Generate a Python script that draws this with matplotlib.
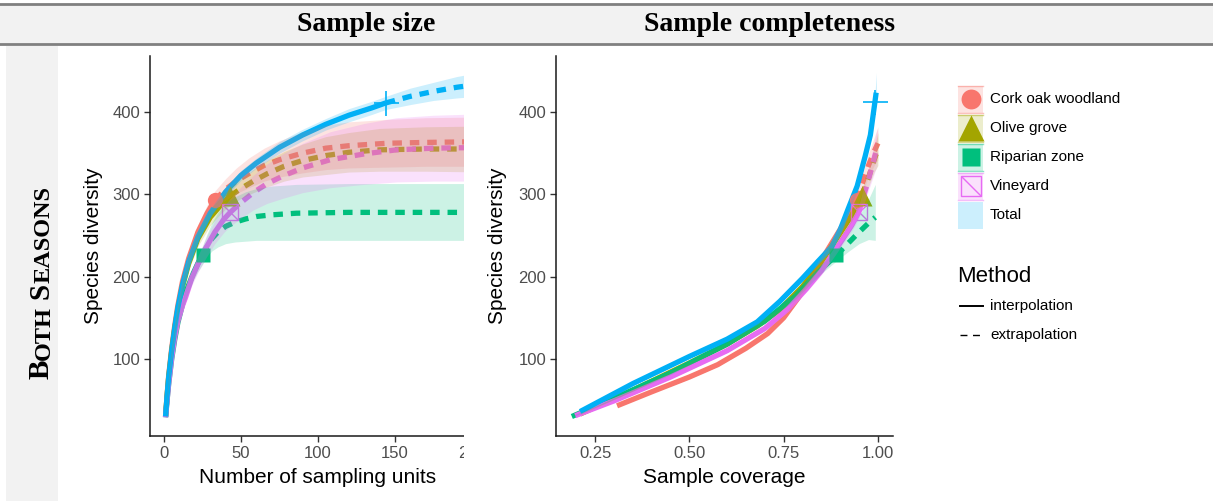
import numpy as np
import matplotlib
matplotlib.use("Agg")
import matplotlib.pyplot as plt
from matplotlib.patches import Rectangle

SANS = ["Liberation Sans", "DejaVu Sans"]
SERIF = ["Liberation Serif", "DejaVu Serif"]
plt.rcParams["font.family"] = SANS

# %% data -------------------------------------------------------------
sites = ["Cork oak woodland", "Olive grove", "Riparian zone", "Vineyard", "Total"]
colors = ["#F8766D", "#A3A500", "#00BF7D", "#E76BF3", "#00B0F6"]

# sample-size based curves (x = number of sampling units)
cork_n = [1, 2, 3, 5, 7, 9, 12, 16, 22, 28, 33, 40, 47, 55, 65, 75, 90, 105, 120, 145, 170, 210]
cork_s = [30, 56, 79, 113, 141, 165, 194, 222, 254, 277, 293, 306, 316, 325, 335, 342, 350, 356, 359, 362, 363, 364]
cork_lo = [29, 54, 76, 109, 136, 159, 187, 214, 245, 267, 282, 293, 301, 308, 316, 321, 326, 330, 332, 333, 334, 334]
cork_hi = [31, 58, 82, 117, 146, 171, 201, 230, 263, 287, 304, 319, 332, 344, 356, 365, 376, 384, 388, 391, 393, 394]

olive_n = [1, 2, 3, 5, 7, 9, 12, 16, 22, 30, 37, 43, 50, 58, 67, 78, 90, 105, 120, 140, 170, 210]
olive_s = [30, 55, 77, 110, 137, 160, 188, 216, 246, 272, 287, 298, 307, 316, 325, 334, 341, 347, 351, 354, 355, 355]
olive_lo = [29, 53, 74, 106, 132, 154, 181, 208, 237, 262, 277, 287, 295, 302, 309, 316, 321, 324, 327, 328, 328, 327]
olive_hi = [31, 57, 80, 114, 142, 166, 195, 224, 255, 282, 297, 309, 319, 330, 341, 352, 361, 370, 375, 380, 382, 383]

rip_n = [1, 2, 3, 5, 7, 9, 12, 15, 19, 22, 25, 28, 31, 35, 40, 46, 53, 60, 70, 86, 120, 160, 210]
rip_s = [29, 50, 69, 100, 124, 144, 166, 185, 204, 216, 226, 237, 246, 254, 261, 266, 270, 273, 275, 277, 278, 278, 278]
rip_lo = [28, 48, 66, 96, 119, 138, 159, 177, 195, 206, 215, 224, 231, 236, 240, 242, 243, 244, 244, 244, 244, 244, 244]
rip_hi = [30, 52, 72, 104, 129, 150, 173, 193, 213, 226, 237, 252, 265, 278, 289, 297, 303, 307, 310, 312, 313, 313, 313]

vin_n = [1, 2, 3, 5, 7, 9, 12, 14, 18, 22, 27, 33, 39, 43, 50, 58, 67, 77, 90, 108, 130, 151, 175, 210]
vin_s = [29, 50, 70, 102, 127, 146, 165, 175, 198, 215, 234, 254, 270, 278, 290, 302, 313, 322, 332, 342, 349, 354, 356, 357]
vin_lo = [28, 48, 67, 98, 122, 140, 158, 167, 189, 205, 222, 240, 254, 261, 271, 281, 289, 295, 302, 308, 312, 315, 316, 316]
vin_hi = [30, 52, 73, 106, 132, 152, 172, 183, 207, 225, 246, 268, 286, 295, 309, 323, 337, 349, 362, 376, 386, 393, 396, 398]

tot_n = [1, 2, 3, 5, 7, 9, 12, 16, 22, 30, 40, 50, 60, 75, 90, 105, 120, 135, 144, 160, 175, 190, 210]
tot_s = [30, 55, 77, 110, 138, 162, 190, 218, 248, 277, 303, 323, 338, 357, 372, 385, 396, 405, 411, 419, 425, 430, 435]
tot_lo = [29, 54, 75, 108, 135, 159, 186, 214, 243, 272, 297, 317, 332, 350, 365, 378, 388, 397, 403, 409, 414, 417, 420]
tot_hi = [31, 56, 79, 112, 141, 165, 194, 222, 253, 282, 309, 329, 344, 364, 379, 392, 404, 413, 419, 429, 436, 443, 450]

# observed reference sample sizes
ref_n = [33, 43, 25, 43, 144]

# coverage based curves (x = sample coverage)
cork_cov = [0.308, 0.40, 0.50, 0.575, 0.65, 0.708, 0.75, 0.79, 0.83, 0.87, 0.91, 0.944, 0.96, 0.975, 0.99, 1.0]
cork_cs = [43, 60, 78, 93, 113, 131, 150, 175, 205, 235, 265, 293, 315, 335, 352, 362]
cork_clo = [42, 59, 76, 91, 110, 128, 147, 171, 200, 229, 258, 285, 304, 321, 335, 342]
cork_chi = [44, 61, 80, 95, 116, 134, 153, 179, 210, 241, 272, 301, 326, 349, 369, 382]

olive_cov = [0.21, 0.35, 0.50, 0.60, 0.68, 0.74, 0.80, 0.85, 0.90, 0.93, 0.957, 0.975, 0.99, 1.0]
olive_cs = [33, 62, 95, 118, 140, 160, 188, 218, 253, 274, 298, 320, 342, 355]
olive_clo = [32, 61, 93, 116, 137, 157, 184, 213, 247, 267, 290, 309, 327, 335]
olive_chi = [34, 63, 97, 120, 143, 163, 192, 223, 259, 281, 306, 331, 357, 375]

rip_cov = [0.188, 0.30, 0.45, 0.60, 0.70, 0.78, 0.84, 0.89, 0.92, 0.95, 0.975, 0.993]
rip_cs = [30, 52, 83, 118, 146, 176, 205, 226, 240, 254, 265, 272]
rip_clo = [29, 51, 81, 116, 143, 172, 200, 219, 230, 240, 245, 244]
rip_chi = [31, 53, 85, 120, 149, 180, 210, 233, 252, 274, 294, 312]

vin_cov = [0.197, 0.30, 0.45, 0.60, 0.70, 0.76, 0.81, 0.85, 0.90, 0.93, 0.949, 0.97, 0.985, 0.998]
vin_cs = [31, 49, 78, 110, 137, 160, 185, 207, 241, 262, 278, 310, 335, 357]
vin_clo = [30, 48, 76, 108, 134, 157, 181, 202, 235, 255, 270, 298, 318, 335]
vin_chi = [32, 50, 80, 112, 140, 163, 189, 212, 247, 269, 286, 322, 352, 380]

tot_cov = [0.21, 0.35, 0.50, 0.60, 0.68, 0.74, 0.80, 0.84, 0.877, 0.90, 0.92, 0.945, 0.966, 0.98, 0.992, 0.994, 0.996]
tot_cs = [36, 70, 103, 124, 145, 170, 198, 218, 236, 257, 281, 310, 346, 372, 412, 419, 426]
tot_clo = [35, 69, 101, 122, 143, 167, 195, 215, 232, 253, 276, 305, 339, 364, 402, 405, 408]
tot_chi = [37, 71, 105, 126, 147, 173, 201, 221, 240, 261, 286, 315, 353, 381, 422, 435, 448]

ref_cov = [0.944, 0.957, 0.89, 0.949, 0.992]

size_curves = [
    (cork_n, cork_s, cork_lo, cork_hi),
    (olive_n, olive_s, olive_lo, olive_hi),
    (rip_n, rip_s, rip_lo, rip_hi),
    (vin_n, vin_s, vin_lo, vin_hi),
    (tot_n, tot_s, tot_lo, tot_hi),
]
cov_curves = [
    (cork_cov, cork_cs, cork_clo, cork_chi),
    (olive_cov, olive_cs, olive_clo, olive_chi),
    (rip_cov, rip_cs, rip_clo, rip_chi),
    (vin_cov, vin_cs, vin_clo, vin_chi),
    (tot_cov, tot_cs, tot_clo, tot_chi),
]

# %% helpers ----------------------------------------------------------
LW = 3.8
DASH = (1.8, 1.5)


def draw_marker(ax, x, y, i, scale=1.0, zorder=3, legend=False):
    c = colors[i]
    if i == 0:
        ax.plot(x, y, "o", ms=11 * scale, color=c, mec="none", zorder=zorder)
    elif i == 1:
        ax.plot(x, y, "^", ms=14 * scale, color=c, mec="none", zorder=zorder)
    elif i == 2:
        ax.plot(x, y, "s", ms=10.5 * scale, color=c, mec="none", zorder=zorder)
    elif i == 3:
        ax.plot(x, y, "s", ms=11 * scale, mfc="none", mec=c, mew=1.0, zorder=zorder)
        if legend:
            ax.plot(x, y, marker=[(-1, 1), (1, -1)], ms=11 * scale, mec=c, mew=1.0,
                    zorder=zorder)
        else:
            ax.plot(x, y, "x", ms=11 * scale, mec=c, mew=1.0, zorder=zorder)
    elif not legend:
        ax.plot(x, y, "+", ms=18 * scale, mec=c, mew=1.2, zorder=zorder)


def draw_panel(ax, curves, refs):
    for i, (x, s, lo, hi) in enumerate(curves):
        x = np.asarray(x, float)
        s = np.asarray(s, float)
        c = colors[i]
        interp = x <= refs[i] + 1e-9
        extrap = x >= refs[i] - 1e-9
        ax.plot(x[interp], s[interp], color=c, lw=LW, solid_capstyle="butt",
                solid_joinstyle="round", zorder=2)
        ax.plot(x[extrap], s[extrap], color=c, lw=LW, dashes=DASH, zorder=2)
        k = int(np.argmin(np.abs(x - refs[i])))
        draw_marker(ax, x[k], s[k], i)
    for i, (x, s, lo, hi) in enumerate(curves):
        ax.fill_between(x, lo, hi, color=colors[i], alpha=0.2, lw=0, zorder=4)


def style(ax, xlabel):
    ax.set_facecolor("none")
    for side in ["top", "right"]:
        ax.spines[side].set_visible(False)
    for side in ["left", "bottom"]:
        ax.spines[side].set_color("#1a1a1a")
        ax.spines[side].set_linewidth(1.1)
    ax.tick_params(direction="out", length=4, width=1.0, color="#333333",
                   labelcolor="#4D4D4D", labelsize=12, pad=3)
    ax.set_ylim(6.3, 468)
    ax.set_yticks([100, 200, 300, 400])
    ax.set_ylabel("Species diversity", fontsize=15, va="center")
    ax.set_xlabel(xlabel, fontsize=15, va="center")
    ax.yaxis.set_label_coords(-0.172, 0.5)
    ax.xaxis.set_label_coords(0.5, -0.11)


# %% figure -----------------------------------------------------------
W, H = 1213, 501
fig = plt.figure(figsize=(W / 100, H / 100), dpi=100)

bg = fig.add_axes([0, 0, 1, 1], zorder=-5)
bg.set_xlim(0, W)
bg.set_ylim(H, 0)
bg.set_axis_off()
bg.add_patch(Rectangle((0, 4), W, 40, facecolor="#F2F2F2", edgecolor="none"))
bg.plot([0, W], [4, 4], color="#808080", lw=2)
bg.plot([0, W], [44, 44], color="#808080", lw=2)
bg.add_patch(Rectangle((6, 46), 52, H - 46, facecolor="#F2F2F2", edgecolor="none"))
bg.text(366, 24, "Sample size", family=SERIF, weight="bold", fontsize=20,
        ha="center", va="center")
bg.text(769, 24, "Sample completeness", family=SERIF, weight="bold", fontsize=20,
        ha="center", va="center")

# small caps row label
prev = bg.text(55, 379, "B", family=SERIF, weight="bold", fontsize=21,
               rotation=90, ha="right", va="bottom")
for txt, fs, gap in [("OTH", 17.5, 0), ("S", 21, 5), ("EASONS", 17.5, 0)]:
    prev = bg.annotate(txt, xy=(1, 1), xycoords=prev, xytext=(0, gap),
                       textcoords="offset points", family=SERIF, weight="bold",
                       fontsize=fs, rotation=90, ha="right", va="bottom")

# left panel: sample size (cut off on the right, as in the source)
ax1 = fig.add_axes([150 / W, (H - 436) / H, 328 / W, 380 / H])
draw_panel(ax1, size_curves, ref_n)
ax1.set_xlim(-9.1, 203.9)
ax1.set_xticks([0, 50, 100, 150, 200])
style(ax1, "Number of sampling units")
ax1.xaxis.set_label_coords((318 - 150) / 328, -0.11)

# right panel: sample coverage
ax2 = fig.add_axes([556 / W, (H - 436) / H, 337 / W, 380 / H])
draw_panel(ax2, cov_curves, ref_cov)
ax2.set_xlim(0.146, 1.040)
ax2.set_xticks([0.25, 0.50, 0.75, 1.00])
ax2.set_xticklabels(["0.25", "0.50", "0.75", "1.00"])
style(ax2, "Sample coverage")
ax2.yaxis.set_label_coords(-0.175, 0.5)

# overlay: crop of left panel + legends
ov = fig.add_axes([0, 0, 1, 1], zorder=10)
ov.set_xlim(0, W)
ov.set_ylim(H, 0)
ov.set_axis_off()
ov.add_patch(Rectangle((464, 46), 23, 440, facecolor="white", edgecolor="none"))

for i, name in enumerate(sites):
    yc = 99 + 29 * i
    c = colors[i]
    draw_marker(ov, 970.5, yc, i, scale=1.3, legend=True)
    ov.add_patch(Rectangle((958, yc - 13.5), 25, 27, facecolor=c, alpha=0.2,
                           edgecolor="none", zorder=4))
    if i < 4:
        ov.plot([958, 983], [yc - 13.5, yc - 13.5], color=c, alpha=0.45, lw=1, zorder=5)
        ov.plot([958, 983], [yc + 13.5, yc + 13.5], color=c, alpha=0.45, lw=1, zorder=5)
    ov.text(990, yc, name, fontsize=11, va="center", ha="left", color="black")

ov.text(957, 276, "Method", fontsize=16, va="center", ha="left")
ov.plot([960, 983], [306, 306], color="black", lw=1.4)
ov.plot([960, 983], [335, 335], color="black", lw=1.0, dashes=(5, 4))
ov.text(990, 306, "interpolation", fontsize=11, va="center")
ov.text(990, 335, "extrapolation", fontsize=11, va="center")

fig.savefig("out.png", dpi=100)
